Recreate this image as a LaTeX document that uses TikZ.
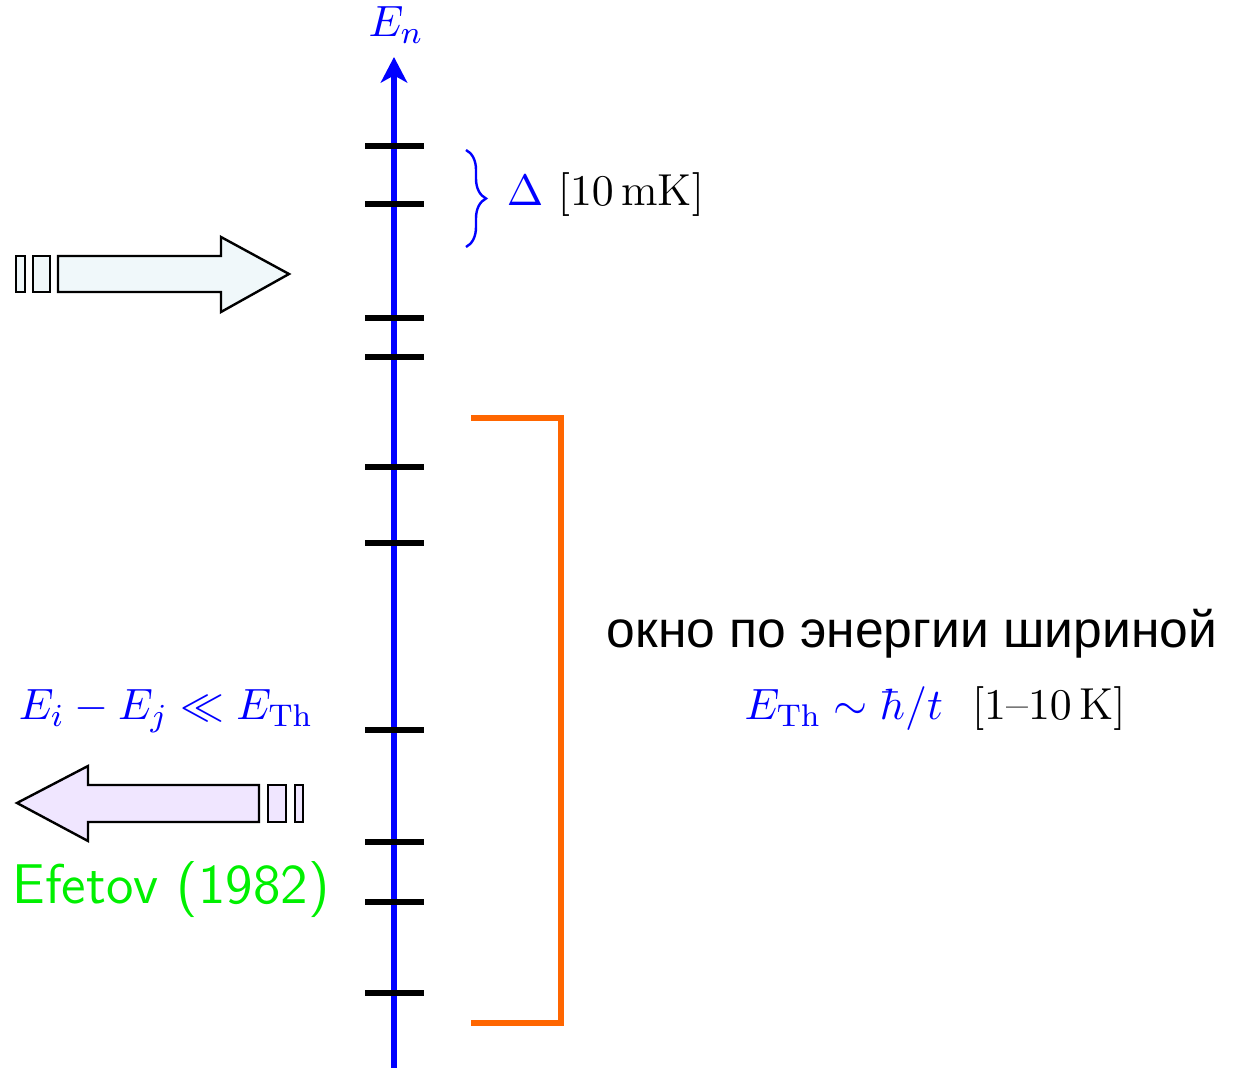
\documentclass[tikz,border=0pt]{standalone}
\usepackage{amsmath,amssymb}
\usepackage{fontspec}
\newfontfamily\rusfont{Liberation Sans}
\usepackage{tikz}
\usetikzlibrary{arrows.meta,decorations.pathreplacing,positioning}
\definecolor{levelblue}{RGB}{0,0,255}
\definecolor{windoworange}{RGB}{255,102,0}
\definecolor{efetovgreen}{RGB}{0,240,0}
\definecolor{incyan}{RGB}{240,248,250}
\definecolor{outlavender}{RGB}{240,230,255}

\begin{document}
\begin{tikzpicture}[x=0.25pt,y=-0.25pt,font=\fontsize{11.2}{13}\selectfont,inner sep=1pt]
    \useasboundingbox (0,0) rectangle (1234,1068);

    % Energy axis
    \coordinate (axisbottom) at (394,1068);
    \coordinate (axistop) at (394,57);
    \draw[-{Stealth[length=6.4pt,width=6.6pt,inset=1.8pt]},line width=1.3pt,levelblue] (axisbottom) -- (axistop);
    \node[levelblue] (En) at (396,25) {$E_n$};

    % Levels
    \foreach \y in {146,204,318,357,467,543,730,842,902,993}
        \draw[line width=1.3pt] (365,\y) -- (424,\y);

    % Level spacing
    \draw[levelblue,line width=0.6pt,decorate,decoration={brace,amplitude=5pt}] (466,150) -- (466,247);
    \node[anchor=west] (gap) at (502,195) {{\color{levelblue}$\Delta$}\ $[10\,\mathrm{mK}]$};

    % Thouless window
    \draw[windoworange,line width=1.3pt] (471,418) -- (561,418) -- (561,1023) -- (471,1023);
    \node[font=\rusfont\fontsize{12.9}{15}\selectfont] (window) at (912,634) {окно по энергии шириной};
    \node[levelblue] (eth) at (935,709) {$E_{\mathrm{Th}} \sim \hbar/t$\ \ {\color{black}$[1\mbox{--}10\,\mathrm{K}]$}};

    % Incoming arrow
    \draw[fill=incyan,line width=0.6pt] (16,256) rectangle (25,292);
    \draw[fill=incyan,line width=0.6pt] (33,256) rectangle (50,292);
    \draw[fill=incyan,line width=0.6pt] (58,256) -- (221,256) -- (221,237) -- (289,274) -- (221,312) -- (221,292) -- (58,292) -- cycle;

    % Outgoing arrow
    \draw[fill=outlavender,line width=0.6pt] (295,785) rectangle (303,822);
    \draw[fill=outlavender,line width=0.6pt] (268,785) rectangle (286,822);
    \draw[fill=outlavender,line width=0.6pt] (259,785) -- (88,785) -- (88,766) -- (17,803) -- (88,841) -- (88,822) -- (259,822) -- cycle;
    \node[levelblue] (cond) at (166,711) {$E_i - E_j \ll E_{\mathrm{Th}}$};
    \node[efetovgreen,font=\sffamily\fontsize{14}{16}\selectfont] (efetov) at (171,890) {Efetov (1982)};
\end{tikzpicture}
\end{document}
